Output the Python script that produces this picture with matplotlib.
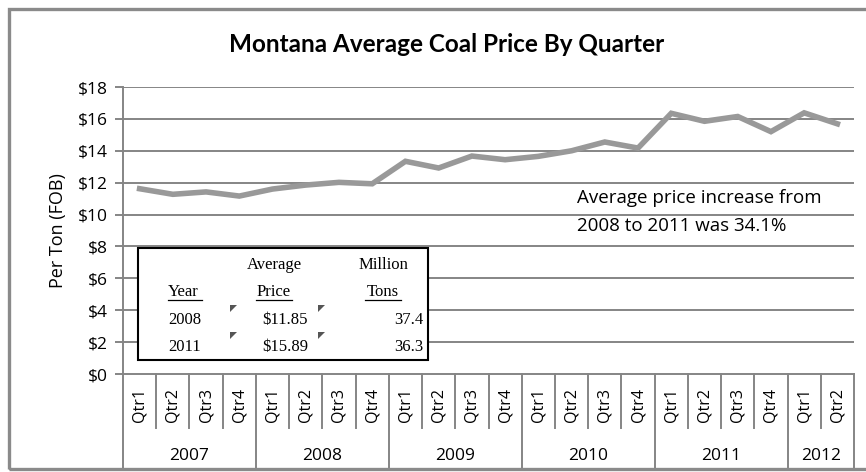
import matplotlib
matplotlib.use("Agg")
import matplotlib.pyplot as plt
from matplotlib.patches import Rectangle, Polygon
from matplotlib.lines import Line2D

# ---- data -------------------------------------------------------------
quarters = ["Qtr1", "Qtr2", "Qtr3", "Qtr4"] * 5 + ["Qtr1", "Qtr2"]
years = ["2007", "2008", "2009", "2010", "2011", "2012"]
quarters_per_year = [4, 4, 4, 4, 4, 2]
price = [11.62, 11.27, 11.42, 11.16,
         11.60, 11.85, 12.02, 11.93,
         13.34, 12.92, 13.67, 13.44,
         13.65, 14.00, 14.55, 14.17,
         16.35, 15.85, 16.15, 15.20,
         16.38, 15.69]
yticks = [0, 2, 4, 6, 8, 10, 12, 14, 16, 18]

table_years = ["2008", "2011"]
table_prices = ["$11.85", "$15.89"]
table_tons = ["37.4", "36.3"]

W, H = 866, 472
fig = plt.figure(figsize=(W / 100, H / 100), dpi=100)
fig.patch.set_facecolor("white")


def fx(x):
    return x / W


def fy(y):
    return 1 - y / H


# chart frame
fig.patches.append(Rectangle((fx(9), fy(469)), fx(870) - fx(9), fy(9) - fy(469),
                             transform=fig.transFigure, fill=False,
                             edgecolor="#8a8a8a", linewidth=2.4, zorder=0))

# plot area in pixels
L, R, T, B = 123, 854, 87, 374
ax = fig.add_axes([fx(L), fy(B), fx(R) - fx(L), fy(T) - fy(B)])
ax.set_xlim(-0.5, len(price) - 0.5)
ax.set_ylim(0, 18)

grid_c = "#858585"
for v in yticks[1:]:
    ax.axhline(v, color=grid_c, linewidth=1.4, zorder=1)

x = list(range(len(price)))
ax.plot(x, price, color="#999999", linewidth=4, solid_joinstyle="miter", zorder=3)

for s in ["top", "right"]:
    ax.spines[s].set_visible(False)
for s in ["left", "bottom"]:
    ax.spines[s].set_color(grid_c)
    ax.spines[s].set_linewidth(1.4)

ax.set_yticks(yticks)
ax.set_yticklabels([f"${v}" for v in yticks], fontsize=12.5, family="Open Sans")
ax.tick_params(axis="y", length=6, width=1.4, color=grid_c, pad=5)
ax.set_xticks([])
ax.set_ylabel("Per Ton (FOB)", fontsize=13, family="Open Sans", labelpad=8)

# category axis: quarter labels, year labels and separators
ah = B - T


def ay(ypix):
    return (B - ypix) / ah


xt = ax.get_xaxis_transform()
for i, q in enumerate(quarters):
    ax.text(i, ay(405), q, transform=xt, rotation=90, ha="center", va="center",
            fontsize=11.5, family="Open Sans", clip_on=False)

year_edges = [-0.5]
for n in quarters_per_year:
    year_edges.append(year_edges[-1] + n)
for k in range(1, len(price)):
    b = k - 0.5
    if b in year_edges:
        continue
    ax.add_line(Line2D([b, b], [0, ay(428)], transform=xt, color=grid_c,
                       linewidth=1.4, clip_on=False))
for b in year_edges:
    ax.add_line(Line2D([b, b], [0, ay(468)], transform=xt, color=grid_c,
                       linewidth=1.4, clip_on=False))
for j, yr in enumerate(years):
    c = (year_edges[j] + year_edges[j + 1]) / 2
    ax.text(c, ay(456), yr, transform=xt, ha="center", va="center",
            fontsize=12.5, family="Open Sans", clip_on=False)

# title
fig.text(fx(447), fy(45), "Montana Average Coal Price By Quarter", ha="center",
         va="center", fontsize=17.5, fontweight="bold", family="Lato")

# note
fig.text(fx(577), fy(198), "Average price increase from", ha="left", va="center",
         fontsize=13.5, family="Open Sans")
fig.text(fx(577), fy(226), "2008 to 2011 was 34.1%", ha="left", va="center",
         fontsize=13.5, family="Open Sans")

# summary table box
tb = Rectangle((fx(138), fy(360)), fx(428) - fx(138), fy(248) - fy(360),
               transform=fig.transFigure, facecolor="white", edgecolor="black",
               linewidth=1.5, zorder=5)
fig.patches.append(tb)

serif = dict(family="Liberation Serif", fontsize=12, zorder=6)
fig.text(fx(274), fy(265), "Average", ha="center", va="center", **serif)
fig.text(fx(383), fy(265), "Million", ha="center", va="center", **serif)
hdr = [("Year", 168, "left"), ("Price", 274, "center"), ("Tons", 383, "center")]
for txt, xp, ha in hdr:
    fig.text(fx(xp), fy(292), txt, ha=ha, va="center", **serif)

# underlines below header words
for txt, x0, x1 in [("Year", 168, 202), ("Price", 256, 292), ("Tons", 365, 401)]:
    fig.lines.append(Line2D([fx(x0), fx(x1)], [fy(300), fy(300)],
                            transform=fig.transFigure, color="black",
                            linewidth=0.9, zorder=6))

rows_y = [320, 347]
for yy, yr, pr, tn in zip(rows_y, table_years, table_prices, table_tons):
    fig.text(fx(168), fy(yy), yr, ha="left", va="center", **serif)
    fig.text(fx(308), fy(yy), pr, ha="right", va="center", **serif)
    fig.text(fx(423), fy(yy), tn, ha="right", va="center", **serif)
    for tx in (230, 318):
        fig.patches.append(Polygon([[fx(tx), fy(yy - 15)], [fx(tx + 7), fy(yy - 15)],
                                    [fx(tx), fy(yy - 8)]], closed=True,
                                   transform=fig.transFigure, facecolor="#555555",
                                   edgecolor="none", zorder=6))

fig.savefig("out.png", dpi=100)
